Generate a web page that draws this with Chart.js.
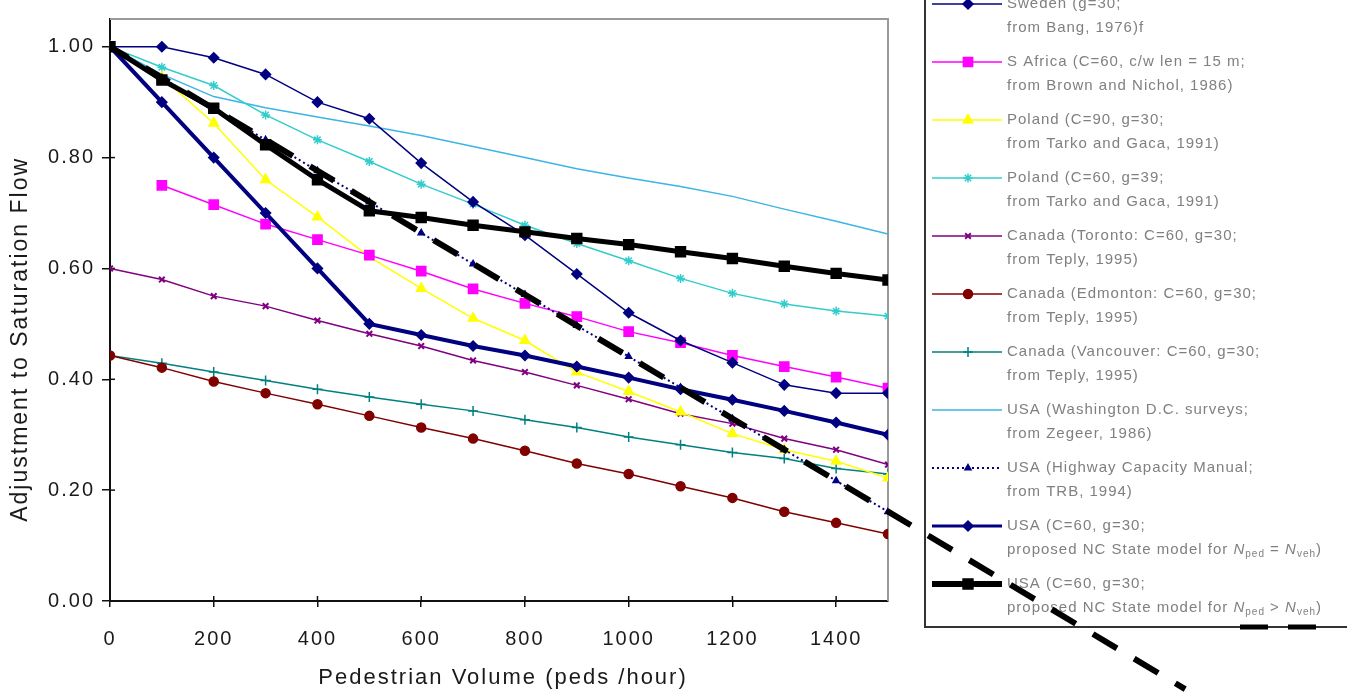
<!DOCTYPE html>
<html>
<head>
<meta charset="utf-8">
<title>Adjustment to Saturation Flow</title>
<script src="https://cdn.jsdelivr.net/npm/chart.js@4.4.1/dist/chart.umd.min.js"></script>
<style>
  html, body { margin: 0; padding: 0; background: #fff; }
  #myChart { display: block; }
</style>
</head>
<body>
<canvas id="myChart" width="1347" height="696"></canvas>
<script>
// pedestrian volumes (peds/hour) on the x axis
const pedVolumes = [0, 100, 200, 300, 400, 500, 600, 700, 800, 900, 1000, 1100, 1200, 1300, 1400, 1500];

// adjustment factors, one array per study
const sweden = [1.00, 1.00, 0.98, 0.95, 0.90, 0.87, 0.79, 0.72, 0.66, 0.59, 0.52, 0.47, 0.43, 0.39, 0.375, 0.375];
const sAfrica = [null, 0.75, 0.715, 0.68, 0.652, 0.624, 0.595, 0.563, 0.537, 0.513, 0.486, 0.466, 0.443, 0.423, 0.404, 0.384];
const poland90 = [1.00, 0.945, 0.862, 0.76, 0.693, 0.621, 0.564, 0.51, 0.47, 0.413, 0.378, 0.341, 0.302, 0.273, 0.252, 0.222];
const poland60 = [1.00, 0.963, 0.93, 0.877, 0.832, 0.793, 0.752, 0.716, 0.678, 0.645, 0.614, 0.582, 0.555, 0.536, 0.523, 0.514];
const toronto = [0.60, 0.58, 0.55, 0.532, 0.506, 0.482, 0.46, 0.434, 0.413, 0.389, 0.364, 0.338, 0.32, 0.293, 0.273, 0.246];
const edmonton = [0.443, 0.421, 0.396, 0.375, 0.355, 0.334, 0.313, 0.293, 0.271, 0.248, 0.229, 0.207, 0.186, 0.161, 0.141, 0.121];
const vancouver = [0.443, 0.429, 0.413, 0.398, 0.382, 0.368, 0.355, 0.343, 0.327, 0.313, 0.296, 0.282, 0.268, 0.257, 0.239, 0.229];
const washingtonDC = [1.00, 0.95, 0.91, 0.89, 0.873, 0.857, 0.84, 0.82, 0.80, 0.78, 0.763, 0.748, 0.73, 0.707, 0.685, 0.662];
const hcm = [1.00, 0.944, 0.888, 0.832, 0.776, 0.72, 0.664, 0.608, 0.553, 0.497, 0.441, 0.385, 0.329, 0.273, 0.217, 0.161];
const ncEqual = [1.00, 0.90, 0.80, 0.70, 0.60, 0.50, 0.48, 0.46, 0.443, 0.423, 0.403, 0.382, 0.363, 0.343, 0.322, 0.30];
const ncGreater = [1.00, 0.94, 0.889, 0.823, 0.76, 0.704, 0.692, 0.678, 0.666, 0.654, 0.643, 0.63, 0.618, 0.604, 0.591, 0.579];

// thick dashed line that runs past the plot (and over the legend)
const dashedX = [0, 2073];
const dashedY = [1.00, -0.159];

const legendLine1 = [
  'Sweden (g=30;',
  'S Africa (C=60, c/w len = 15 m;',
  'Poland (C=90, g=30;',
  'Poland (C=60, g=39;',
  'Canada (Toronto: C=60, g=30;',
  'Canada (Edmonton: C=60, g=30;',
  'Canada (Vancouver: C=60, g=30;',
  'USA (Washington D.C. surveys;',
  'USA (Highway Capacity Manual;',
  'USA (C=60, g=30;',
  'USA (C=60, g=30;'
];
const legendLine2 = [
  'from Bang, 1976)f',
  'from Brown and Nichol, 1986)',
  'from Tarko and Gaca, 1991)',
  'from Tarko and Gaca, 1991)',
  'from Teply, 1995)',
  'from Teply, 1995)',
  'from Teply, 1995)',
  'from Zegeer, 1986)',
  'from TRB, 1994)',
  'proposed NC State model for N_{ped} = N_{veh})',
  'proposed NC State model for N_{ped} > N_{veh})'
];

const FONT = '"Liberation Sans", Arial, sans-serif';

function toPoints(ys, xs) {
  xs = xs || pedVolumes;
  return xs.map((x, i) => ({ x: x, y: ys[i] })).filter(p => p.y !== null);
}

function serie(label, ys, color, width, style, radius, extra) {
  return Object.assign({
    label: label,
    data: toPoints(ys),
    borderColor: color,
    backgroundColor: color,
    pointBackgroundColor: color,
    pointBorderColor: color,
    borderWidth: width,
    pointStyle: style,
    pointRadius: radius,
    pointBorderWidth: 1.5,
    tension: 0,
    fill: false
  }, extra || {});
}

const datasets = [
  serie('Sweden', sweden, '#000080', 1.5, 'rectRot', 5, { order: 3 }),
  serie('S Africa', sAfrica, '#ff00ff', 1.5, 'rect', 6.5, { order: 4 }),
  serie('Poland C=90', poland90, '#ffff00', 1.5, 'triangle', 5.5, { order: 5 }),
  serie('Poland C=60', poland60, '#33cccc', 1.5, 'star', 4.5, { order: 6 }),
  serie('Canada Toronto', toronto, '#800080', 1.5, 'crossRot', 4, { order: 7, pointBorderWidth: 2 }),
  serie('Canada Edmonton', edmonton, '#800000', 1.5, 'circle', 4.5, { order: 8 }),
  serie('Canada Vancouver', vancouver, '#008080', 1.5, 'cross', 5, { order: 9 }),
  serie('USA Washington D.C.', washingtonDC, '#3cb4e6', 1.5, 'circle', 0, { order: 10 }),
  serie('USA HCM', hcm, '#000080', 2, 'triangle', 3.5, { order: 2, borderDash: [2, 3] }),
  serie('USA NC =', ncEqual, '#000080', 4, 'rectRot', 5, { order: 2 }),
  serie('USA NC >', ncGreater, '#000000', 5, 'rect', 7, { order: 1 }),
  {
    label: 'dashed',
    data: toPoints(dashedY, dashedX),
    borderColor: '#000000',
    borderWidth: 6,
    borderDash: [28, 20],
    borderDashOffset: 7,
    borderCapStyle: 'butt',
    pointRadius: 0,
    tension: 0,
    fill: false,
    clip: false,
    order: 0
  }
];

// text with N_{sub} pieces (italic N, small subscript)
function drawRich(ctx, text, x, y) {
  const parts = text.split(/(N_\{\w+\})/);
  parts.forEach(part => {
    const m = part.match(/^N_\{(\w+)\}$/);
    if (m) {
      ctx.font = 'italic 15px ' + FONT;
      ctx.fillText('N', x, y);
      x += ctx.measureText('N').width;
      ctx.font = '10px ' + FONT;
      ctx.fillText(m[1], x, y + 4);
      x += ctx.measureText(m[1]).width;
    } else if (part) {
      ctx.font = '15px ' + FONT;
      ctx.fillText(part, x, y);
      x += ctx.measureText(part).width;
    }
  });
}

const frameAndLegend = {
  id: 'frameAndLegend',
  beforeDraw(chart) {
    chart.ctx.letterSpacing = '2px';
  },
  beforeDatasetsDraw(chart) {
    const { ctx, chartArea: a, scales } = chart;
    ctx.save();

    // grey top and right border of the plot
    ctx.strokeStyle = '#9a9a9a';
    ctx.lineWidth = 2;
    ctx.beginPath();
    ctx.moveTo(a.left, a.top);
    ctx.lineTo(a.right, a.top);
    ctx.lineTo(a.right, a.bottom);
    ctx.stroke();

    // tick marks cross the axes
    ctx.strokeStyle = '#111';
    ctx.lineWidth = 1.5;
    scales.x.ticks.forEach(t => {
      const px = scales.x.getPixelForValue(t.value);
      ctx.beginPath();
      ctx.moveTo(px, a.bottom);
      ctx.lineTo(px, a.bottom - 5);
      ctx.stroke();
    });
    scales.y.ticks.forEach(t => {
      const py = scales.y.getPixelForValue(t.value);
      ctx.beginPath();
      ctx.moveTo(a.left, py);
      ctx.lineTo(a.left + 5, py);
      ctx.stroke();
    });

    // legend box
    const boxLeft = a.right + 37;
    const boxBottom = 627;
    ctx.strokeStyle = '#333';
    ctx.lineWidth = 2;
    ctx.beginPath();
    ctx.moveTo(boxLeft, 0);
    ctx.lineTo(boxLeft, boxBottom);
    ctx.lineTo(chart.width, boxBottom);
    ctx.stroke();
    ctx.strokeStyle = '#000';
    ctx.lineWidth = 5;
    ctx.setLineDash([28, 20]);
    ctx.beginPath();
    ctx.moveTo(boxLeft + 315, boxBottom);
    ctx.lineTo(boxLeft + 392, boxBottom);
    ctx.stroke();
    ctx.setLineDash([]);

    ctx.letterSpacing = '1px';
    ctx.textBaseline = 'middle';
    ctx.textAlign = 'left';
    legendLine1.forEach((line, i) => {
      const ds = datasets[i];
      const y = 4 + 58 * i;
      ctx.strokeStyle = ds.borderColor;
      ctx.lineWidth = i === 10 ? 6 : (i === 9 ? 3 : ds.borderWidth);
      ctx.setLineDash(ds.borderDash || []);
      ctx.beginPath();
      ctx.moveTo(boxLeft + 7, y);
      ctx.lineTo(boxLeft + 77, y);
      ctx.stroke();
      ctx.setLineDash([]);
      if (ds.pointRadius > 0) {
        ctx.fillStyle = ds.pointBackgroundColor;
        ctx.strokeStyle = ds.pointBorderColor;
        ctx.lineWidth = ds.pointBorderWidth;
        Chart.helpers.drawPoint(ctx, {
          pointStyle: ds.pointStyle,
          radius: ds.pointRadius,
          borderWidth: ds.pointBorderWidth,
          rotation: 0
        }, boxLeft + 43, y);
      }
      ctx.fillStyle = '#808080';
      ctx.font = '15px ' + FONT;
      ctx.fillText(line, boxLeft + 82, y);
      drawRich(ctx, legendLine2[i], boxLeft + 82, y + 24);
    });

    ctx.restore();
  }
};

const ctx = document.getElementById('myChart').getContext('2d');

const myChart = new Chart(ctx, {
  type: 'line',
  data: { datasets: datasets },
  options: {
    responsive: false,
    animation: false,
    layout: { padding: { top: 13, right: 459, left: 0, bottom: 0 } },
    plugins: {
      legend: { display: false },
      tooltip: { enabled: false }
    },
    scales: {
      x: {
        type: 'linear',
        min: 0,
        max: 1500,
        ticks: {
          stepSize: 200,
          includeBounds: false,
          maxRotation: 0,
          color: '#1a1a1a',
          padding: 20,
          font: { family: FONT, size: 20 },
          callback: v => String(v)
        },
        grid: { drawOnChartArea: false, drawTicks: true, tickLength: 6, color: '#111', lineWidth: 1.5 },
        border: { display: true, color: '#111', width: 2 },
        title: {
          display: true,
          text: ' Pedestrian Volume (peds /hour)',
          color: '#1a1a1a',
          font: { family: FONT, size: 22 },
          padding: { top: 0, bottom: 5 }
        },
        afterFit(scale) { scale.height = 95; }
      },
      y: {
        min: 0,
        max: 1.05,
        ticks: {
          stepSize: 0.2,
          includeBounds: false,
          color: '#1a1a1a',
          padding: 7,
          font: { family: FONT, size: 20 },
          callback: v => v.toFixed(2)
        },
        grid: { drawOnChartArea: false, drawTicks: true, tickLength: 8, color: '#111', lineWidth: 1.5 },
        border: { display: true, color: '#111', width: 2 },
        title: {
          display: true,
          // trailing spaces push the rotated title down to where it sits in the original
          text: 'Adjustment to Saturation Flow       ',
          color: '#1a1a1a',
          font: { family: FONT, size: 23 },
          padding: { top: 7, bottom: 0 }
        },
        afterFit(scale) { scale.width = 110; }
      }
    }
  },
  plugins: [frameAndLegend]
});
</script>
</body>
</html>
